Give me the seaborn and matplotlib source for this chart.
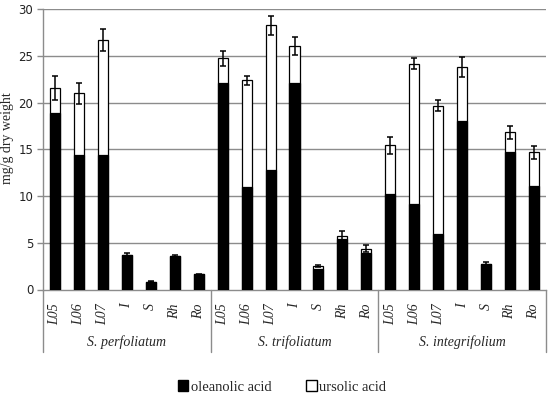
import numpy as np
import pandas as pd
import matplotlib
matplotlib.use("Agg")
import matplotlib.pyplot as plt
import seaborn as sns
from matplotlib.patches import Patch
from matplotlib.transforms import blended_transform_factory

species = ["S. perfoliatum", "S. trifoliatum", "S. integrifolium"]
organs = ["L05", "L06", "L07", "I", "S", "Rh", "Ro"]

oleanolic_perf = [18.9, 14.4, 14.4, 3.7, 0.85, 3.6, 1.65]
oleanolic_trif = [22.1, 11.0, 12.8, 22.1, 2.15, 5.45, 3.95]
oleanolic_integ = [10.2, 9.2, 6.0, 18.0, 2.7, 14.75, 11.1]

ursolic_perf = [2.7, 6.6, 12.3, 0.05, 0.0, 0.0, 0.0]
ursolic_trif = [2.65, 11.4, 15.5, 4.0, 0.38, 0.3, 0.42]
ursolic_integ = [5.25, 15.0, 13.7, 5.85, 0.05, 2.1, 3.6]

err_perf = [1.3, 1.1, 1.2, 0.15, 0.08, 0.08, 0.05]
err_trif = [0.8, 0.5, 1.0, 1.0, 0.1, 0.5, 0.37]
err_integ = [0.9, 0.55, 0.6, 1.05, 0.2, 0.7, 0.7]

ole = oleanolic_perf + oleanolic_trif + oleanolic_integ
urs = ursolic_perf + ursolic_trif + ursolic_integ
err = err_perf + err_trif + err_integ
sp_col = [s for s in species for _ in organs]
org_col = organs * len(species)
keys = [f"{s}|{o}" for s, o in zip(sp_col, org_col)]

df = pd.DataFrame({"key": keys, "species": sp_col, "organ": org_col,
                   "oleanolic": ole, "ursolic": urs, "err": err})
df["total"] = df["oleanolic"] + df["ursolic"]

sns.set_style("white")
serif = "Liberation Serif"
fig = plt.figure(figsize=(5.5, 3.98), dpi=100)
ax = fig.add_axes([43 / 550, 1 - 289.5 / 398, 503 / 550, 280 / 398])

grid_c = "#8c8c8c"
for v in range(5, 31, 5):
    ax.axhline(v, color=grid_c, lw=1.0, zorder=0)

sns.barplot(data=df, x="key", y="total", color="white", edgecolor="black",
            linewidth=0.9, width=0.42, ax=ax, errorbar=None, saturation=1, zorder=2)
sns.barplot(data=df, x="key", y="oleanolic", color="black", edgecolor="black",
            linewidth=0.9, width=0.42, ax=ax, errorbar=None, saturation=1, zorder=3)

xs = np.arange(len(df))
ax.errorbar(xs, df["total"], yerr=df["err"], fmt="none", ecolor="black",
            elinewidth=1.1, capsize=2.3, capthick=1.1, zorder=4)

ax.set_ylim(0, 30)
ax.set_xlim(-0.5, len(df) - 0.5)
ax.set_yticks(range(0, 31, 5))
ax.tick_params(axis="y", labelsize=8.5, length=4, width=1, color=grid_c, pad=3,
               left=True, labelcolor="#222222")
ax.set_xticks(xs)
ax.set_xticklabels(org_col, rotation=90, fontsize=10, family=serif,
                   style="italic")
ax.tick_params(axis="x", length=0, pad=10)
ax.set_xlabel("")
ax.set_ylabel("mg/g dry weight", family=serif, fontsize=10)
ax.yaxis.set_label_coords(-29 / 503, (289.5 - 138) / 280)

for s in ["top", "right"]:
    ax.spines[s].set_visible(False)
for s in ["left", "bottom"]:
    ax.spines[s].set_color(grid_c)
    ax.spines[s].set_linewidth(1.0)

trans = blended_transform_factory(ax.transData, ax.transAxes)
for b in [-0.5, 6.5, 13.5, 20.5]:
    ax.plot([b, b], [0, -62 / 280], color=grid_c, lw=1.0, transform=trans,
            clip_on=False)
for i, s in enumerate(species):
    ax.text(3 + 7 * i, -53 / 280, s, transform=trans, ha="center", va="center",
            family=serif, style="italic", fontsize=10)

handles = [Patch(facecolor="black", edgecolor="black", label="oleanolic acid"),
           Patch(facecolor="white", edgecolor="black", label="ursolic acid")]
fig.legend(handles=handles, loc="center", bbox_to_anchor=(282 / 550, 1 - 387 / 398),
           ncol=2, frameon=False, prop={"family": serif, "size": 10.5},
           handlelength=0.75, handleheight=0.75, handletextpad=0.2, columnspacing=2.3)

fig.savefig("out.png", dpi=100)
